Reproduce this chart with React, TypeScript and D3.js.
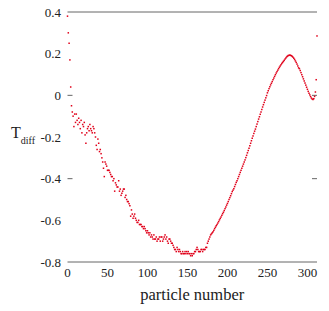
import * as d3 from 'd3';

const width = 329;
const height = 311;

// T_diff per particle (index = particle number)
const tdiff = [
    0.38, 0.30, 0.25, 0.17, 0.04, -0.05, -0.08, -0.10, -0.15, -0.09,
    -0.13, -0.09, -0.12, -0.14, -0.11, -0.13, -0.16, -0.12, -0.18, -0.14,
    -0.15, -0.13, -0.19, -0.23, -0.18, -0.16, -0.15, -0.17, -0.14, -0.16,
    -0.17, -0.18, -0.15, -0.16, -0.18, -0.20, -0.24, -0.26, -0.21, -0.23,
    -0.27, -0.26, -0.28, -0.30, -0.32, -0.35, -0.39, -0.32, -0.33, -0.34,
    -0.36, -0.36, -0.36, -0.37, -0.38, -0.39, -0.39, -0.41, -0.40, -0.46,
    -0.42, -0.43, -0.44, -0.44, -0.41, -0.46, -0.45, -0.48, -0.47, -0.46,
    -0.45, -0.45, -0.49, -0.48, -0.50, -0.51, -0.51, -0.52, -0.53, -0.58,
    -0.55, -0.57, -0.59, -0.58, -0.57, -0.59, -0.60, -0.61, -0.61, -0.60,
    -0.62, -0.62, -0.62, -0.63, -0.63, -0.64, -0.63, -0.64, -0.65, -0.66,
    -0.65, -0.66, -0.67, -0.66, -0.68, -0.67, -0.68, -0.69, -0.67, -0.69,
    -0.69, -0.68, -0.70, -0.69, -0.69, -0.68, -0.70, -0.68, -0.68, -0.70,
    -0.69, -0.68, -0.67, -0.69, -0.68, -0.70, -0.71, -0.69, -0.69, -0.70,
    -0.71, -0.71, -0.72, -0.73, -0.74, -0.74, -0.75, -0.73, -0.74, -0.75,
    -0.74, -0.75, -0.76, -0.76, -0.75, -0.76, -0.76, -0.75, -0.76, -0.75,
    -0.76, -0.75, -0.76, -0.76, -0.77, -0.76, -0.77, -0.76, -0.76, -0.75,
    -0.75, -0.74, -0.73, -0.74, -0.75, -0.75, -0.75, -0.74, -0.74, -0.75,
    -0.74, -0.74, -0.74, -0.73, -0.73, -0.71, -0.70, -0.69, -0.68, -0.67,
    -0.665, -0.66, -0.655, -0.648, -0.64, -0.633, -0.626, -0.62, -0.613, -0.606,
    -0.598, -0.591, -0.584, -0.576, -0.568, -0.561, -0.553, -0.544, -0.536, -0.527,
    -0.519, -0.51, -0.5, -0.491, -0.482, -0.472, -0.462, -0.455, -0.448, -0.438,
    -0.428, -0.418, -0.41, -0.4, -0.39, -0.38, -0.37, -0.36, -0.35, -0.34,
    -0.33, -0.32, -0.31, -0.299, -0.288, -0.276, -0.265, -0.254, -0.242, -0.23,
    -0.218, -0.206, -0.195, -0.183, -0.172, -0.162, -0.15, -0.138, -0.126, -0.114,
    -0.103, -0.091, -0.08, -0.068, -0.056, -0.045, -0.034, -0.023, -0.012, -0.001,
    0.012, 0.022, 0.032, 0.041, 0.05, 0.058, 0.066, 0.075, 0.083, 0.091,
    0.099, 0.107, 0.114, 0.121, 0.128, 0.135, 0.141, 0.147, 0.153, 0.158,
    0.163, 0.168, 0.174, 0.179, 0.184, 0.188, 0.191, 0.192, 0.193, 0.192,
    0.19, 0.187, 0.183, 0.178, 0.172, 0.165, 0.158, 0.15, 0.141, 0.132,
    0.128, 0.119, 0.109, 0.099, 0.089, 0.079, 0.069, 0.059, 0.049, 0.039,
    0.029, 0.019, 0.01, 0.002, -0.006, -0.013, -0.018, -0.02, -0.016, -0.005,
    0.016, 0.075, 0.285,
];

const xTicks = [0, 50, 100, 150, 200, 250, 300];
const yTicks = [0.4, 0.2, 0, -0.2, -0.4, -0.6, -0.8];
const yTickMarks = [0, -0.4];

export default function App() {
    const x = d3.scaleLinear().domain([0, 312]).range([67.5, 317]);
    const y = d3.scaleLinear().domain([-0.8, 0.4]).range([262, 12]);
    const axisColor = '#666';
    const font = 'Liberation Serif';

    return (
        <svg
            width={width}
            height={height}
            style={{ position: 'absolute', left: 0, top: 0, background: '#fff' }}
        >
            {/* top and bottom frame lines */}
            <line x1={x(0)} x2={x(312)} y1={y(0.4)} y2={y(0.4)} stroke={axisColor} strokeWidth={1} />
            <line x1={x(0)} x2={x(312)} y1={y(-0.8)} y2={y(-0.8)} stroke={axisColor} strokeWidth={1} />

            {yTickMarks.map((t) => (
                <g key={t}>
                    <line x1={x(0)} x2={x(0) + 5} y1={y(t)} y2={y(t)} stroke={axisColor} />
                    <line x1={x(312) - 5} x2={x(312)} y1={y(t)} y2={y(t)} stroke={axisColor} />
                </g>
            ))}

            {yTicks.map((t) => (
                <text
                    key={t}
                    x={61}
                    y={y(t)}
                    dy="0.35em"
                    textAnchor="end"
                    fontSize={13}
                    fontFamily={font}
                    fill="#222"
                >
                    {t === 0 ? '0' : d3.format('.1f')(t).replace('−', '-')}
                </text>
            ))}

            {xTicks.map((t) => (
                <text
                    key={t}
                    x={x(t)}
                    y={277}
                    textAnchor="middle"
                    fontSize={13}
                    fontFamily={font}
                    fill="#222"
                >
                    {t}
                </text>
            ))}

            <text x={x(156)} y={300} textAnchor="middle" fontSize={16.5} fontFamily={font} fill="#222">
                particle number
            </text>
            <text x={11} y={138} fontSize={16} fontFamily={font} fill="#222">
                T
                <tspan fontSize={10} dy={6}>
                    diff
                </tspan>
            </text>

            {tdiff.map((v, i) => (
                <rect
                    key={i}
                    x={x(i) - 0.75}
                    y={y(v) - 0.75}
                    width={1.5}
                    height={1.5}
                    fill="#e0001a"
                />
            ))}
        </svg>
    );
}
